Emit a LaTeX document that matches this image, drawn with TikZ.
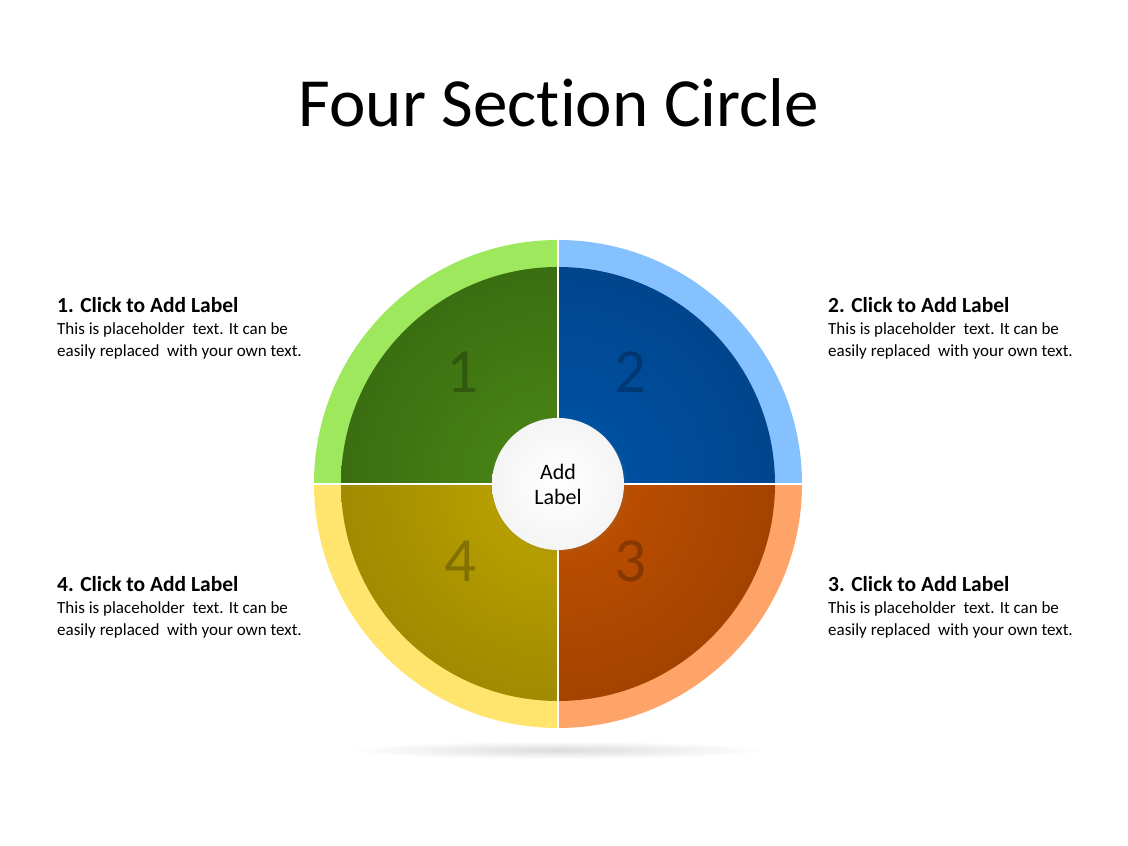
\documentclass[tikz,border=0pt]{standalone}
\usepackage{fontspec}
\setmainfont{Carlito}[Ligatures=NoCommon]
\usetikzlibrary{shadows}
\definecolor{ringgreen}{HTML}{9DE85C}
\definecolor{ringblue}{HTML}{85C0FF}
\definecolor{ringorange}{HTML}{FFA468}
\definecolor{ringyellow}{HTML}{FFE56E}
\definecolor{greenlight}{HTML}{4C8916}
\definecolor{greendark}{HTML}{29520B}
\definecolor{bluelight}{HTML}{0055AA}
\definecolor{bluedark}{HTML}{00356E}
\definecolor{orangelight}{HTML}{C45300}
\definecolor{orangedark}{HTML}{823100}
\definecolor{olivelight}{HTML}{C0A600}
\definecolor{olivedark}{HTML}{806E00}
\tikzset{
        every node/.style={inner sep=0pt},
        titletext/.style={font=\fontsize{69}{74}\selectfont, anchor=base},
        headtext/.style={font=\bfseries\fontsize{21.5}{22}\selectfont, anchor=base west},
        bodytext/.style={font=\fontsize{17}{22}\selectfont, align=left, anchor=base west},
        numtext/.style={font=\fontsize{63}{63}\selectfont, anchor=base, text=black, text opacity=0.25},
        hub/.style={circle, minimum size=132pt, inner color=white, outer color=black!4,
          circular drop shadow={shadow scale=1.05, opacity=0.25}, align=center, font=\fontsize{22}{25}\selectfont},
        divider/.style={draw=white, line width=2pt}
          }
\newcommand{\gap}{\hspace{0.45em}}
\begin{document}
\begin{tikzpicture}[x=1pt, y=1pt]
        \useasboundingbox[fill=white] (0,0) rectangle (1128,846);
        \coordinate (c) at (558,362);
        % soft shadow under the circle
        \shade[inner color=black!14, outer color=white] (558,96) ellipse (210 and 9);
        % four sections
        \foreach \a/\rc/\lc/\dc in {90/ringgreen/greenlight/greendark, 0/ringblue/bluelight/bluedark,
            270/ringorange/orangelight/orangedark, 180/ringyellow/olivelight/olivedark}{
          \fill[\rc] (c) -- ++(\a:244) arc[start angle=\a, delta angle=90, radius=244] -- cycle;
          \begin{scope}
            \clip (c) -- ++(\a:217) arc[start angle=\a, delta angle=90, radius=217] -- cycle;
            \shade[inner color=\lc, outer color=\dc] (c) circle (440);
          \end{scope}
        }
        \draw[divider] (c) ++(0,-244) -- ++(0,488);
        \draw[divider] (c) ++(-244,0) -- ++(488,0);
        \node[numtext] (num1) at (462,453) {1};
        \node[numtext] (num2) at (630,453) {2};
        \node[numtext] (num3) at (630,264) {3};
        \node[numtext] (num4) at (460,264) {4};
        \node[hub] (hub) at (c) {Add\\Label};
        \node[titletext] (title) at (559,719) {Four Section Circle};
        \node[headtext] (head1) at (57,533) {1. Click to Add Label};
        \node[bodytext] (body1) at (57,489) {This is placeholder\gap text. It can be\\easily replaced\gap with your own text.};
        \node[headtext] (head2) at (828,533) {2. Click to Add Label};
        \node[bodytext] (body2) at (828,489) {This is placeholder\gap text. It can be\\easily replaced\gap with your own text.};
        \node[headtext] (head3) at (828,254) {3. Click to Add Label};
        \node[bodytext] (body3) at (828,210) {This is placeholder\gap text. It can be\\easily replaced\gap with your own text.};
        \node[headtext] (head4) at (57,254) {4. Click to Add Label};
        \node[bodytext] (body4) at (57,210) {This is placeholder\gap text. It can be\\easily replaced\gap with your own text.};
      \end{tikzpicture}
\end{document}
